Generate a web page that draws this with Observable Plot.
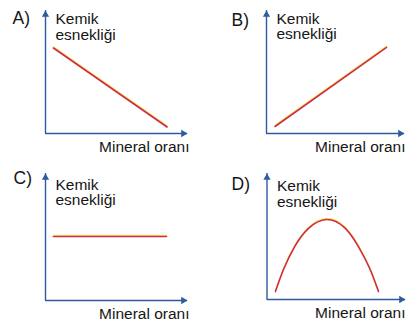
<!DOCTYPE html>
<html><head><meta charset="utf-8">
<script src="https://cdn.jsdelivr.net/npm/d3@7"></script>
<script src="https://cdn.jsdelivr.net/npm/@observablehq/plot@0.6"></script>
<style>
body{margin:0;background:#fff;}
#chart{position:relative;width:406px;height:320px;overflow:hidden;background:#fff;}
#chart > svg{position:absolute;}
</style></head><body><div id="chart"></div>
<script>
// ---- data ----
const panelLetters = ["A)", "B)", "C)", "D)"];
const yAxisLabel = "Kemik\nesnekliği";
const xAxisLabel = "Mineral oranı";
const aX = [0.56, 8.56];
const aY = [6.95, 0.53];
const bX = [0.62, 8.7];
const bY = [0.57, 7.0];
const cX = [0.56, 8.52];
const cY = [5.04, 5.04];
const dX = [0.61, 1.2, 2.0, 3.0, 4.3, 5.6, 6.6, 7.4, 8.05];
const dY = [0.63, 2.4, 4.2, 5.65, 6.35, 5.7, 4.2, 2.5, 0.63];

// ---- layout (pixels, per panel, local coordinates) ----
const layout = [
  {left: 0,   top: 0,   axL: 45,   axB: 133, axT: 10, axR: 187, letterDx: -33, letterTop: 11.5, kemikTop: 12.5, xlDx: 2},
  {left: 203, top: 0,   axL: 63,   axB: 133, axT: 10, axR: 201, letterDx: -35, letterTop: 13, kemikTop: 12, xlDx: 1},
  {left: 0,   top: 160, axL: 45,   axB: 140, axT: 13, axR: 187, letterDx: -32, letterTop: 11.5, kemikTop: 18, xlDx: 2},
  {left: 203, top: 160, axL: 63.5, axB: 139, axT: 13, axR: 202, letterDx: -35.5, letterTop: 17, kemikTop: 19.5, xlDx: 0}
];
const series = [[aX, aY], [bX, bY], [cX, cY], [dX, dY]];
const curves = ["linear", "linear", "linear", "natural"];

const axisColor = "#2c5c9e";
const redColor = "#cf2c44";
const yellowColor = "#f4e24c";
const textColor = "#161616";
const W = 203, H = 160;

const chart = document.getElementById("chart");

series.forEach(([xs, ys], i) => {
  const m = layout[i];
  const pts = xs.map((x, j) => ({x, y: ys[j]}));
  const svg = Plot.plot({
    width: W, height: H,
    marginLeft: m.axL, marginRight: W - m.axR, marginTop: m.axT, marginBottom: H - m.axB,
    x: {domain: [0, 10], axis: null},
    y: {domain: [0, 10], axis: null},
    style: {fontFamily: "'Liberation Sans', Arial, sans-serif", background: "transparent", overflow: "visible"},
    marks: [
      Plot.ruleY([0], {stroke: axisColor, strokeWidth: 1.4}),
      Plot.ruleX([0], {stroke: axisColor, strokeWidth: 1.4}),
      Plot.dot([{x: 10, y: 0}], {x: "x", y: "y", symbol: "triangle", rotate: 90, r: 2.7, fill: axisColor, stroke: "none", dx: -4.2}),
      Plot.dot([{x: 0, y: 10}], {x: "x", y: "y", symbol: "triangle", rotate: 0, r: 2.7, fill: axisColor, stroke: "none", dy: 4.2}),
      Plot.line(pts, {x: "x", y: "y", stroke: yellowColor, strokeWidth: 1.1, dy: -1.2, curve: curves[i]}),
      Plot.line(pts, {x: "x", y: "y", stroke: redColor, strokeWidth: 1.6, curve: curves[i]}),
      Plot.text([panelLetters[i]], {frameAnchor: "top-left", text: d => d, dx: m.letterDx, dy: m.letterTop - m.axT,
        textAnchor: "start", lineAnchor: "top", fontSize: 17.5, fill: textColor}),
      Plot.text([yAxisLabel], {frameAnchor: "top-left", text: d => d, dx: 10, dy: m.kemikTop - m.axT,
        textAnchor: "start", lineAnchor: "top", fontSize: 15.5, lineHeight: 1.0, fill: textColor,
        fontFamily: "'Liberation Sans Narrow', 'Arial Narrow', 'Liberation Sans', sans-serif"}),
      Plot.text([xAxisLabel], {frameAnchor: "bottom-right", text: d => d, dx: m.xlDx, dy: 18,
        textAnchor: "end", lineAnchor: "bottom", fontSize: 15.5, fill: textColor})
    ]
  });
  svg.style.left = m.left + "px";
  svg.style.top = m.top + "px";
  chart.appendChild(svg);
});
</script>
</body></html>
